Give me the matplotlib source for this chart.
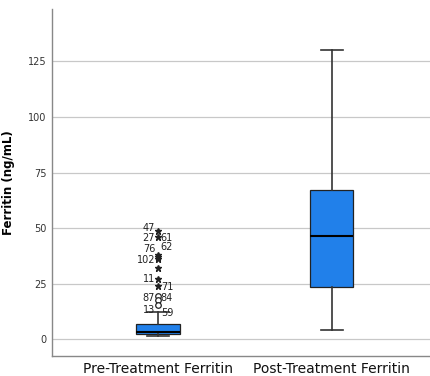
import matplotlib
matplotlib.use('Agg')
import matplotlib.pyplot as plt

# Box statistics
categories = ['Pre-Treatment Ferritin', 'Post-Treatment Ferritin']
whislo = [1.5, 4.0]
q1 = [2.5, 23.5]
med = [3.5, 46.5]
q3 = [7.0, 67.0]
whishi = [12.5, 130.0]

# Pre-treatment outliers
extreme_vals = [48.5, 46.0, 38.0, 37.0, 36.0, 32.0, 27.0, 24.0]   # stars
outlier_vals = [19.5, 17.5, 15.5]                                # circles
case_ids = ['47', '27', '61', '76', '62', '102', '11', '71', '87', '84', '13', '59']
case_y = [50.0, 45.5, 45.5, 40.5, 41.5, 35.5, 27.0, 23.5, 18.5, 18.5, 13.0, 12.0]
case_side = ['l', 'l', 'r', 'l', 'r', 'l', 'l', 'r', 'l', 'r', 'l', 'r']

yticks = [0, 25, 50, 75, 100, 125]

box_color = '#2180EA'
edge = '#222222'

fig = plt.figure(figsize=(4.3, 3.76), dpi=100)
ax = fig.add_axes([0.121, 0.053, 0.879, 0.923])

stats = []
for i, name in enumerate(categories):
    stats.append({'label': name, 'whislo': whislo[i], 'q1': q1[i], 'med': med[i],
                  'q3': q3[i], 'whishi': whishi[i], 'fliers': []})

ax.bxp(stats, positions=[1, 2], widths=0.25, patch_artist=True, showfliers=False,
       boxprops=dict(facecolor=box_color, edgecolor=edge, linewidth=0.9),
       medianprops=dict(color='black', linewidth=1.5),
       whiskerprops=dict(color='#333333', linewidth=1.2),
       capprops=dict(color='#333333', linewidth=1.2),
       capwidths=0.125, zorder=3)

ax.plot([1] * len(extreme_vals), extreme_vals, linestyle='none', marker='*',
        markersize=4.5, color='#222222', zorder=4)
ax.plot([1] * len(outlier_vals), outlier_vals, linestyle='none', marker='o',
        markersize=4, markerfacecolor='white', markeredgecolor='#222222',
        markeredgewidth=0.9, zorder=4)

for lab, yv, side in zip(case_ids, case_y, case_side):
    if side == 'l':
        ax.annotate(lab, (1, yv), xytext=(-2, 0), textcoords='offset points',
                    ha='right', va='center', fontsize=7, color='#222222')
    else:
        ax.annotate(lab, (1, yv), xytext=(2, 0), textcoords='offset points',
                    ha='left', va='center', fontsize=7, color='#222222')

ax.set_xlim(0.39, 2.566)
ax.set_ylim(-7.5, 148.5)
ax.set_yticks(yticks)
ax.set_xticks([1, 2])
ax.set_xticklabels(categories, fontsize=10, color='#111111')
ax.tick_params(axis='y', length=0, pad=4, labelsize=7, labelcolor='#333333')
ax.tick_params(axis='x', length=0, pad=4)
ax.yaxis.grid(True, color='#c8c8c8', linewidth=0.9)
ax.set_axisbelow(True)
for s in ['top', 'right']:
    ax.spines[s].set_visible(False)
for s in ['left', 'bottom']:
    ax.spines[s].set_color('#888888')
    ax.spines[s].set_linewidth(1.0)
ax.set_ylabel('Ferritin (ng/mL)', fontsize=8.5, fontweight='bold')
ax.yaxis.set_label_coords(-0.098, 0.5)

fig.savefig('out.png', dpi=100)
